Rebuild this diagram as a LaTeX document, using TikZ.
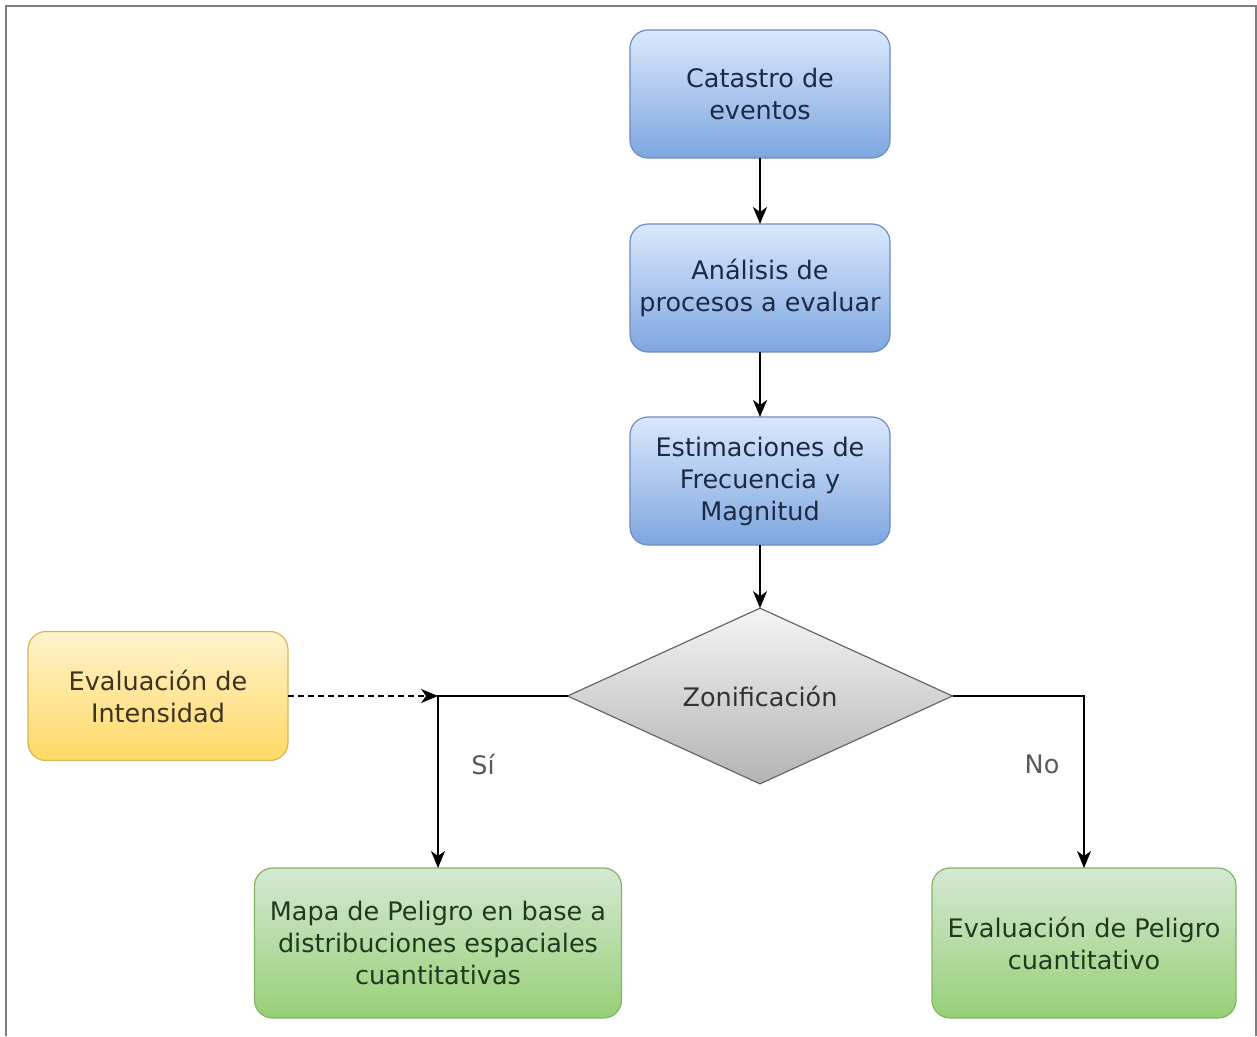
\documentclass[tikz,border=0pt]{standalone}
\usepackage{fontspec}
\setmainfont{DejaVu Sans}
\usetikzlibrary{shapes.geometric,arrows.meta}
\definecolor{bluetop}{HTML}{DAE8FC}
\definecolor{bluebot}{HTML}{7EA6E0}
\definecolor{blueline}{HTML}{6C8EBF}
\definecolor{bluetext}{HTML}{1C2A45}
\definecolor{yeltop}{HTML}{FFF2CC}
\definecolor{yelbot}{HTML}{FFD966}
\definecolor{yelline}{HTML}{D6B656}
\definecolor{yeltext}{HTML}{3E3320}
\definecolor{grntop}{HTML}{D5E8D4}
\definecolor{grnbot}{HTML}{97D077}
\definecolor{grnline}{HTML}{82B366}
\definecolor{grntext}{HTML}{1F3A1F}
\definecolor{graytop}{HTML}{F5F5F5}
\definecolor{graybot}{HTML}{B3B3B3}
\definecolor{grayline}{HTML}{666666}
\definecolor{frame}{HTML}{7F7F7F}
\tikzset{
  boxbase/.style={rounded corners=18pt, line width=1.2pt, align=center, inner sep=4pt, outer sep=0pt,
    font=\fontsize{25.5}{32}\selectfont},
  bluebox/.style={boxbase, draw=blueline, top color=bluetop, bottom color=bluebot, text=bluetext,
    minimum width=260pt, minimum height=128pt},
  yelbox/.style={boxbase, draw=yelline, top color=yeltop, bottom color=yelbot, text=yeltext,
    minimum width=260pt, minimum height=129pt},
  grnbox/.style={boxbase, draw=grnline, top color=grntop, bottom color=grnbot, text=grntext,
    minimum height=150pt},
  decision/.style={diamond, draw=grayline, line width=1.2pt, top color=graytop, bottom color=graybot,
    minimum width=385pt, minimum height=172pt, inner sep=0pt, outer sep=0pt, text=black!80,
    font=\fontsize{25.5}{32}\selectfont},
  conn/.style={line width=1.8pt, -{Stealth[length=17pt,width=14pt,inset=5pt]}},
  lbl/.style={text=black!65, font=\fontsize{25.5}{32}\selectfont}
}
\begin{document}
\begin{tikzpicture}[x=1pt,y=-1pt]
\useasboundingbox (0,0) rectangle (1257,1036);
\draw[frame, line width=2.5pt] (6,1036) -- (6,6) -- (1256,6) -- (1256,1036);

\node[bluebox] (cat) at (760,94) {Catastro de\\eventos};
\node[bluebox] (ana) at (760,288) {Análisis de\\procesos a evaluar};
\node[bluebox] (est) at (760,481) {Estimaciones de\\Frecuencia y\\Magnitud};
\node[decision] (zon) at (760,696) {Zonificación};
\node[yelbox] (int) at (158,696) {Evaluación de\\Intensidad};
\node[grnbox, minimum width=367pt] (mapa) at (438,943) {Mapa de Peligro en base a\\distribuciones espaciales\\cuantitativas};
\node[grnbox, minimum width=304pt] (pel) at (1084,943) {Evaluación de Peligro\\cuantitativo};
\coordinate (jl) at (438,696);

\draw[conn] (cat) -- (ana);
\draw[conn] (ana) -- (est);
\draw[conn] (est) -- (zon);
\draw[conn] (zon.west) -| (mapa.north);
\draw[conn] (zon.east) -| (pel.north);
\draw[conn, dash pattern=on 6pt off 4pt] (int.east) -- (jl);

\node[lbl] (si) at (483,764) {Sí};
\node[lbl] (no) at (1042,764) {No};
\end{tikzpicture}
\end{document}
